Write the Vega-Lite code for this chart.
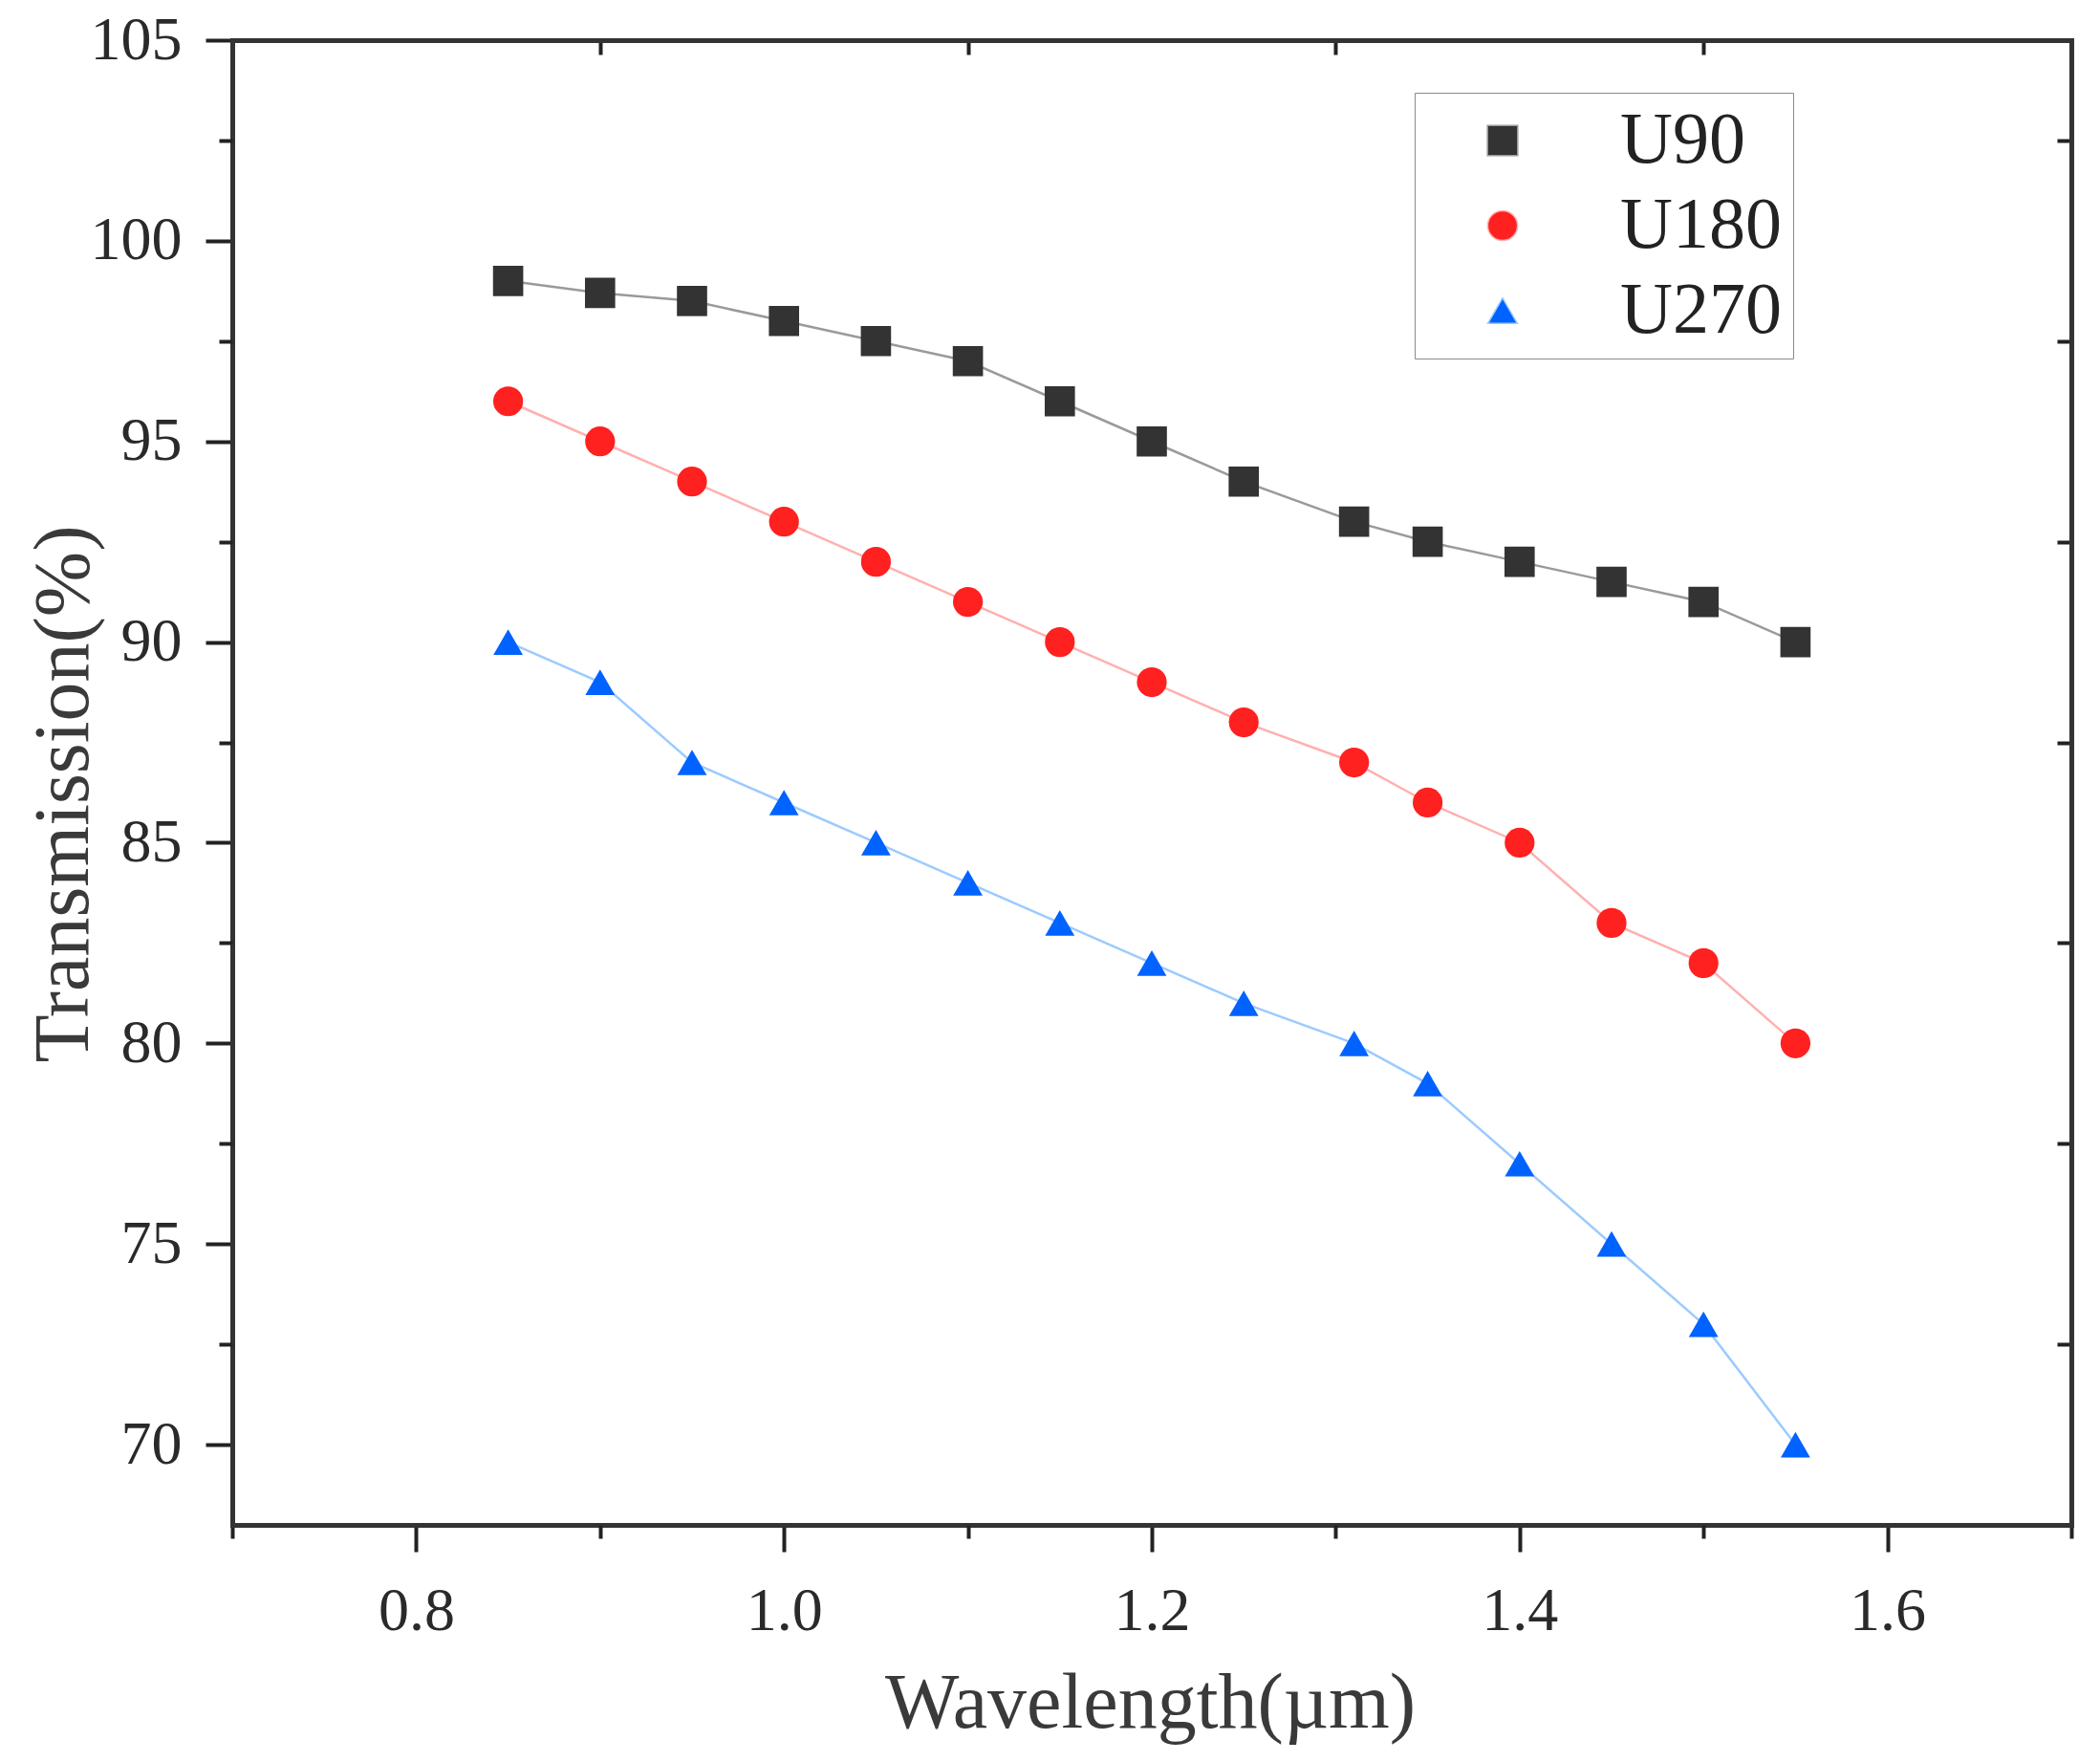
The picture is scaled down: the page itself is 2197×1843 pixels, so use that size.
{
  "$schema": "https://vega.github.io/schema/vega-lite/v6.json",
  "width": 1924,
  "height": 1553,
  "autosize": {"type": "none"},
  "padding": {"left": 243, "top": 42, "right": 30, "bottom": 248},
  "background": "white",
  "data": {
    "values": [
      {"series": "U90", "wl": 0.85, "T": 99},
      {"series": "U90", "wl": 0.9, "T": 98.7},
      {"series": "U90", "wl": 0.95, "T": 98.5},
      {"series": "U90", "wl": 1.0, "T": 98},
      {"series": "U90", "wl": 1.05, "T": 97.5},
      {"series": "U90", "wl": 1.1, "T": 97},
      {"series": "U90", "wl": 1.15, "T": 96},
      {"series": "U90", "wl": 1.2, "T": 95},
      {"series": "U90", "wl": 1.25, "T": 94},
      {"series": "U90", "wl": 1.31, "T": 93},
      {"series": "U90", "wl": 1.35, "T": 92.5},
      {"series": "U90", "wl": 1.4, "T": 92},
      {"series": "U90", "wl": 1.45, "T": 91.5},
      {"series": "U90", "wl": 1.5, "T": 91},
      {"series": "U90", "wl": 1.55, "T": 90},
      {"series": "U180", "wl": 0.85, "T": 96},
      {"series": "U180", "wl": 0.9, "T": 95},
      {"series": "U180", "wl": 0.95, "T": 94},
      {"series": "U180", "wl": 1.0, "T": 93},
      {"series": "U180", "wl": 1.05, "T": 92},
      {"series": "U180", "wl": 1.1, "T": 91},
      {"series": "U180", "wl": 1.15, "T": 90},
      {"series": "U180", "wl": 1.2, "T": 89},
      {"series": "U180", "wl": 1.25, "T": 88},
      {"series": "U180", "wl": 1.31, "T": 87},
      {"series": "U180", "wl": 1.35, "T": 86},
      {"series": "U180", "wl": 1.4, "T": 85},
      {"series": "U180", "wl": 1.45, "T": 83},
      {"series": "U180", "wl": 1.5, "T": 82},
      {"series": "U180", "wl": 1.55, "T": 80},
      {"series": "U270", "wl": 0.85, "T": 90},
      {"series": "U270", "wl": 0.9, "T": 89},
      {"series": "U270", "wl": 0.95, "T": 87},
      {"series": "U270", "wl": 1.0, "T": 86},
      {"series": "U270", "wl": 1.05, "T": 85},
      {"series": "U270", "wl": 1.1, "T": 84},
      {"series": "U270", "wl": 1.15, "T": 83},
      {"series": "U270", "wl": 1.2, "T": 82},
      {"series": "U270", "wl": 1.25, "T": 81},
      {"series": "U270", "wl": 1.31, "T": 80},
      {"series": "U270", "wl": 1.35, "T": 79},
      {"series": "U270", "wl": 1.4, "T": 77},
      {"series": "U270", "wl": 1.45, "T": 75},
      {"series": "U270", "wl": 1.5, "T": 73},
      {"series": "U270", "wl": 1.55, "T": 70}
    ]
  },
  "layer": [
    {
      "mark": {"type": "line", "strokeWidth": 2.5},
      "encoding": {
        "x": {
          "field": "wl", "type": "quantitative",
          "scale": {"domain": [0.7, 1.7], "nice": false, "zero": false},
          "axis": {
            "orient": "bottom", "values": [0.8, 1.0, 1.2, 1.4, 1.6], "format": ".1f",
            "tickSize": 28, "labelPadding": 30,
            "title": "Wavelength(µm)", "titleX": 960, "titleY": 211,
            "titleAlign": "center", "titleBaseline": "alphabetic"
          }
        },
        "y": {
          "field": "T", "type": "quantitative",
          "scale": {"domain": [68, 105], "nice": false, "zero": false},
          "axis": {
            "orient": "left", "values": [70, 75, 80, 85, 90, 95, 100, 105],
            "tickSize": 28, "labelPadding": 25,
            "title": "Transmission(%)", "titleX": -152, "titleY": 788,
            "titleAngle": -90, "titleAlign": "center", "titleBaseline": "alphabetic"
          }
        },
        "stroke": {
          "field": "series", "type": "nominal",
          "scale": {"domain": ["U90", "U180", "U270"], "range": ["#9a9a9a", "#ffb0b0", "#9ccbff"]},
          "legend": {"title": null}
        }
      }
    },
    {
      "mark": {"type": "point", "filled": true, "opacity": 1, "strokeWidth": 0},
      "encoding": {
        "x": {
          "field": "wl", "type": "quantitative",
          "axis": {
            "orient": "bottom", "values": [0.7, 0.9, 1.1, 1.3, 1.5, 1.7],
            "tickSize": 14, "labels": false, "domain": false, "title": null
          }
        },
        "y": {
          "field": "T", "type": "quantitative",
          "axis": {
            "orient": "left", "values": [72.5, 77.5, 82.5, 87.5, 92.5, 97.5, 102.5],
            "tickSize": 14, "labels": false, "domain": false, "title": null
          }
        },
        "fill": {
          "field": "series", "type": "nominal",
          "scale": {"domain": ["U90", "U180", "U270"], "range": ["#333333", "#ff2020", "#0062ff"]},
          "legend": {"title": null}
        },
        "shape": {
          "field": "series", "type": "nominal",
          "scale": {"domain": ["U90", "U180", "U270"], "range": ["square", "circle", "triangle-up"]},
          "legend": {
            "title": null, "orient": "none", "legendX": 1237, "legendY": 55,
            "symbolSize": 1000, "symbolStrokeWidth": 1.5, "symbolOffset": 42, "symbolOpacity": 1,
            "labelOffset": 85, "labelFontSize": 76, "labelFont": "Liberation Serif",
            "labelColor": "#222222", "labelLimit": 400, "labelBaseline": "middle",
            "rowPadding": 13, "padding": 12,
            "strokeColor": "#8a8a8a", "fillColor": "white"
          }
        },
        "size": {
          "field": "series", "type": "nominal",
          "scale": {"domain": ["U90", "U180", "U270"], "range": [1000, 950, 1700]},
          "legend": null
        }
      }
    },
    {
      "mark": {"type": "point", "size": 0},
      "encoding": {
        "x": {
          "field": "wl", "type": "quantitative",
          "axis": {
            "orient": "top", "values": [0.9, 1.1, 1.3, 1.5],
            "tickSize": -15, "labels": false, "title": null
          }
        },
        "y": {
          "field": "T", "type": "quantitative",
          "axis": {
            "orient": "right", "values": [72.5, 77.5, 82.5, 87.5, 92.5, 97.5, 102.5],
            "tickSize": -15, "labels": false, "title": null
          }
        }
      }
    }
  ],
  "resolve": {
    "axis": {"x": "independent", "y": "independent"}
  },
  "config": {
    "view": {"stroke": null},
    "font": "Liberation Serif",
    "axis": {
      "grid": false,
      "domainColor": "#333333", "domainWidth": 5, "domainCap": "square",
      "tickColor": "#222222", "tickWidth": 4,
      "labelFont": "Liberation Serif", "labelFontSize": 64, "labelColor": "#2a2a2a",
      "titleFont": "Liberation Serif", "titleFontSize": 82, "titleFontWeight": "normal", "titleColor": "#3a3a3a"
    }
  }
}
